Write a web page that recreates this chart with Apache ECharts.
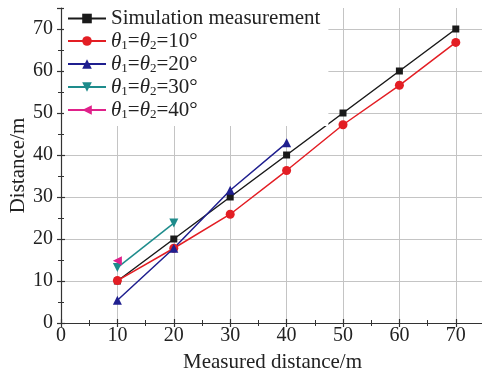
<!DOCTYPE html>
<html>
<head>
<meta charset="utf-8">
<script src="https://cdn.jsdelivr.net/npm/echarts@6/dist/echarts.min.js"></script>
<style>
  html, body { margin: 0; padding: 0; background: #fff; }
  #chart { width: 482px; height: 376px; }
</style>
</head>
<body>
<div id="chart"></div>
<script>
const xValues = [10, 20, 30, 40, 50, 60, 70];
const simulation = [10, 20, 30, 40, 50, 60, 70];
const theta10 = [10.1, 17.8, 25.9, 36.3, 47.2, 56.6, 66.8];
const theta20 = [5.4, 17.8, 31.6, 42.9];
const theta30 = [13.2, 23.8];
const theta40 = [14.8];

const seriesNames = ['Simulation measurement', 'θ1=θ2=10°', 'θ1=θ2=20°', 'θ1=θ2=30°', 'θ1=θ2=40°'];
const seriesValues = [simulation, theta10, theta20, theta30, theta40];
const colors = ['#1a1a1a', '#e31e24', '#1f1f8f', '#1e8c8c', '#e0218a'];
const symbols = ['rect', 'circle', 'triangle', 'triangle', 'triangle'];
const rotations = [0, 0, 0, 180, 90];
const symbolSizes = [7, 9, 9, 9, 9];

const font = "'Liberation Serif', 'Times New Roman', serif";

const chart = echarts.init(document.getElementById('chart'));

const pairs = (ys) => ys.map((y, i) => [xValues[i], y]);

const series = seriesNames.map((name, i) => ({
  name: name,
  type: 'line',
  data: pairs(seriesValues[i]),
  symbol: symbols[i],
  symbolSize: symbolSizes[i],
  symbolRotate: rotations[i],
  showAllSymbol: true,
  lineStyle: { color: colors[i], width: 1.5 },
  itemStyle: { color: colors[i] },
  emphasis: { disabled: true },
}));

const baseAxis = {
  type: 'value',
  min: 0,
  max: 75,
  interval: 10,
};

// main axis draws ticks outward, a twin axis draws them inward so they cross
function tickAxis(extra, inside, main) {
  return Object.assign({}, baseAxis, extra, {
    axisLine: { show: main, onZero: false, lineStyle: { color: '#333', width: 1.2 } },
    axisTick: { show: true, inside: inside, length: 4, lineStyle: { color: '#333', width: 1.2 } },
    minorTick: { show: true, splitNumber: 2, length: 3, lineStyle: { color: '#333', width: 1 } },
    splitLine: main
      ? { show: true, showMinLine: false, showMaxLine: false, lineStyle: { color: '#c4c4c4', width: 1 } }
      : { show: false },
  });
}

const option = {
  backgroundColor: '#fff',
  animation: false,
  grid: { left: 61, right: -2, top: 8, bottom: 53, outerBoundsMode: 'none' },
  legend: {
    left: 64,
    top: 0,
    orient: 'vertical',
    backgroundColor: '#fff',
    padding: [8, 8, 5, 3],
    itemWidth: 38,
    itemHeight: 12,
    itemGap: 1,
    data: seriesNames,
    formatter: (name) => {
      if (name.indexOf('θ') !== 0) return '{n|' + name + '}';
      const deg = name.split('=')[2];
      return '{it|θ}{sub|1}{n|=}{it|θ}{sub|2}{n|=' + deg + '}';
    },
    textStyle: {
      fontFamily: font,
      fontSize: 21,
      color: '#222',
      rich: {
        n: { fontFamily: font, fontSize: 21, color: '#222', lineHeight: 21 },
        it: { fontFamily: font, fontSize: 21, fontStyle: 'italic', color: '#222', lineHeight: 21 },
        sub: { fontFamily: font, fontSize: 13, color: '#222', lineHeight: 21, padding: [9, 0, 0, 0] },
      },
    },
  },
  xAxis: [
    tickAxis({
      position: 'bottom',
      name: 'Measured distance/m',
      nameLocation: 'middle',
      nameGap: 29,
      nameMoveOverlap: false,
      nameTextStyle: { fontFamily: font, fontSize: 21, color: '#222' },
      axisLabel: {
        fontFamily: font, fontSize: 20, color: '#222', margin: 3,
        showMaxLabel: false,
        formatter: (v) => (v % 10 === 0 ? String(v) : ''),
      },
    }, false, true),
    tickAxis({ position: 'bottom', axisLabel: { show: false } }, true, false),
  ],
  yAxis: [
    tickAxis({
      position: 'left',
      name: 'Distance/m',
      nameLocation: 'middle',
      nameGap: 32,
      nameMoveOverlap: false,
      nameTextStyle: { fontFamily: font, fontSize: 21, color: '#222' },
      axisLabel: {
        fontFamily: font, fontSize: 20, color: '#222', margin: 8,
        showMaxLabel: false,
        formatter: (v) => (v % 10 === 0 ? String(v) : ''),
      },
    }, false, true),
    tickAxis({ position: 'left', axisLabel: { show: false } }, true, false),
  ],
  series: series,
};

chart.setOption(option);
</script>
</body>
</html>
